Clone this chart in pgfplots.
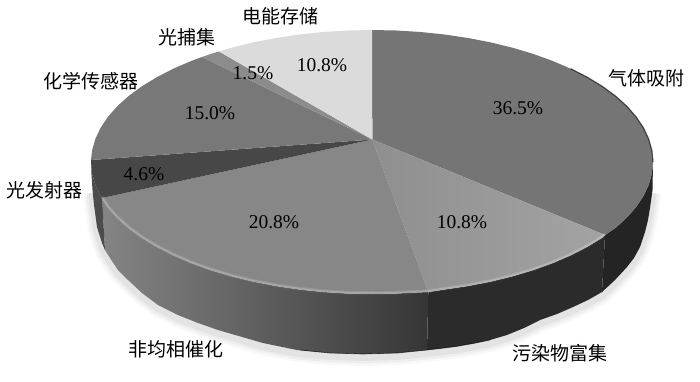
\documentclass[border=0pt]{standalone}
\usepackage{pgfplots}
\usepackage{pgfplotstable}
\usepackage{fontspec}
\pgfplotsset{compat=1.18}
\setmainfont{Liberation Serif}
\newfontfamily\cjk{Noto Sans CJK SC}
\newcommand\lab[1]{{\fontsize{19.5}{20}\selectfont #1}}
\newcommand\labc[1]{{\fontsize{19}{20}\selectfont\cjk #1}}
\pgfplotstableread{
x y
372.3 139.5
372 30
396.5 30.5
420.8 32
444.7 34.5
468.1 38
490.8 42.4
512.5 47.7
533.2 53.9
552.6 60.9
570.7 68.7
587.2 77.2
602.2 86.3
615.4 96
626.7 106.2
636.1 116.9
643.4 127.8
648.7 139.1
651.9 150.5
653 162
651.9 173.5
648.7 184.9
643.4 196.2
636.1 207.1
626.7 217.8
615.4 228
605 235
}\topgas
\pgfplotstableread{
x y
372.3 139.5
605 235
602.2 237.7
587.2 246.8
570.7 255.3
552.6 263.1
533.2 270.1
512.5 276.3
490.8 281.6
468.1 286
444.7 289.5
428.3 292
}\toppol
\pgfplotstableread{
x y
372.3 139.5
428.3 292
420.8 292.3
396.5 293.5
372 294
347.5 293.5
323.2 292
299.3 289.5
275.9 286
253.2 281.6
231.5 276.3
210.8 270.1
191.4 263.1
173.3 255.3
156.8 246.8
141.8 237.7
128.6 228
117.3 217.8
107.9 207.1
102 198
}\tophet
\pgfplotstableread{
x y
372.3 139.5
102 198
100.6 196.2
95.3 184.9
92.1 173.5
91 162
91 160
}\toplight
\pgfplotstableread{
x y
372.3 139.5
91 160
92.1 150.5
95.3 139.1
100.6 127.8
107.9 116.9
117.3 106.2
128.6 96
141.8 86.3
156.8 77.2
173.3 68.7
191.4 60.9
202 57
}\topchem
\pgfplotstableread{
x y
372.3 139.5
202 57
210.8 53.9
219 51.5
}\topcap
\pgfplotstableread{
x y
372.3 139.5
219 51.5
231.5 47.7
253.2 42.4
275.9 38
299.3 34.5
323.2 32
347.5 30.5
372 30
}\topele
\pgfplotstableread{
x y
653 162
651.9 173.5
648.7 184.9
643.4 196.2
636.1 207.1
626.7 217.8
615.4 228
605 235
602 292
615 280
627 267
634 258
640 247
645 232
648 220
650 208
652.5 190
}\sidegas
\pgfplotstableread{
x y
605 235
602.2 237.7
587.2 246.8
570.7 255.3
552.6 263.1
533.2 270.1
512.5 276.3
490.8 281.6
468.1 286
444.7 289.5
428.3 292
427 350
440 348.5
456 346.5
473 343.5
490 340
507 335
524 328
540 320
557 314
573 307
588 300
602 292
}\sidepol
\pgfplotstableread{
x y
428.3 292
420.8 292.3
396.5 293.5
372 294
347.5 293.5
323.2 292
299.3 289.5
275.9 286
253.2 281.6
231.5 276.3
210.8 270.1
191.4 263.1
173.3 255.3
156.8 246.8
141.8 237.7
128.6 228
117.3 217.8
107.9 207.1
102 198
105 250
110 258
118 270
128 280
142 293
158 305
178 315
198 323
218 330
230 333.5
263 343
297 350
330 353
363 354
397 353
427 350
}\sidehet
\pgfplotstableread{
x y
102 198
100.6 196.2
95.3 184.9
92.1 173.5
91 162
91.5 175
92.5 190
94 205
97 227
102 243
105 250
}\sidelight
\pgfplotstableread{
x y
652.5 190
650 208
648 220
645 232
640 247
634 258
627 267
615 280
602 292
588 300
573 307
557 314
540 320
524 328
507 335
490 340
473 343.5
456 346.5
440 348.5
427 350
397 353
363 354
330 353
297 350
263 343
230 333.5
218 330
198 323
178 315
158 305
142 293
128 280
118 270
110 258
105 250
102 243
97 227
94 205
92.5 190
}\outer
\pgfplotstableread{
x y
605 235
602.2 237.7
587.2 246.8
570.7 255.3
552.6 263.1
533.2 270.1
512.5 276.3
490.8 281.6
468.1 286
444.7 289.5
428.3 292
420.8 292.3
396.5 293.5
372 294
347.5 293.5
323.2 292
299.3 289.5
275.9 286
253.2 281.6
231.5 276.3
210.8 270.1
191.4 263.1
173.3 255.3
156.8 246.8
141.8 237.7
128.6 228
117.3 217.8
107.9 207.1
102 198
}\rim
\pgfplotstableread{
x y
570.7 68.7
587.2 77.2
602.2 86.3
615.4 96
626.7 106.2
636.1 116.9
643.4 127.8
648.7 139.1
651.9 150.5
653 162
}\darkrim
\pgfplotstableread{
x y
300 350
330 353
363 354
397 353
427 350
440 348.5
456 346.5
473 343.5
490 340
}\outerline
\definecolor{cgas}{gray}{0.46}
\definecolor{cpol}{gray}{0.60}
\definecolor{chet}{gray}{0.53}
\definecolor{clight}{gray}{0.28}
\definecolor{cchem}{gray}{0.47}
\definecolor{ccap}{gray}{0.55}
\definecolor{cele}{gray}{0.86}
\definecolor{shl}{gray}{0.52}
\definecolor{shr}{gray}{0.21}
\definecolor{polL}{gray}{0.56}
\definecolor{polR}{gray}{0.64}
\begin{document}
\begin{tikzpicture}
\begin{axis}[
  at={(0,0)}, anchor=south west,
  width=700pt, height=381pt, scale only axis,
  xmin=0, xmax=700, ymin=0, ymax=381, y dir=reverse,
  hide axis, clip=false,
  every node/.style={text=black, inner sep=0pt},
]
\addplot[draw=none, forget plot] coordinates {(0,0) (700,381)};
\addplot[gray, opacity=0.06, line width=18pt, yshift=-3pt] table {\outer};
\addplot[gray, opacity=0.08, line width=13pt, yshift=-3pt] table {\outer};
\addplot[gray, opacity=0.10, line width=8pt, yshift=-3pt] table {\outer};
\addplot[draw=none, fill=black!86] table {\sidegas};
\addplot[draw=none, fill=black!83] table {\sidepol};
\addplot[draw=none, shade, left color=shl, right color=shr] table {\sidehet};
\addplot[draw=none, fill=black!70] table {\sidelight};
\addplot[black, opacity=0.6, line width=0.7pt] table {\outerline};
\addplot[draw=none, fill=cgas] table {\topgas};
\addplot[draw=none, shade, left color=polL, right color=polR] table {\toppol};
\addplot[draw=none, fill=chet] table {\tophet};
\addplot[draw=none, fill=clight] table {\toplight};
\addplot[draw=none, fill=cchem] table {\topchem};
\addplot[draw=none, fill=ccap] table {\topcap};
\addplot[draw=none, fill=cele] table {\topele};
\addplot[white, opacity=0.10, line width=3.5pt, yshift=1pt] table {\rim};
\addplot[white, opacity=0.18, line width=1.5pt, yshift=1pt] table {\rim};
\addplot[black, opacity=0.6, line width=1.2pt] table {\darkrim};
\node at (axis cs:280,16.5) {\labc{电能存储}};
\node at (axis cs:187,37) {\labc{光捕集}};
\node at (axis cs:91,81) {\labc{化学传感器}};
\node at (axis cs:44,190) {\labc{光发射器}};
\node at (axis cs:646,78) {\labc{气体吸附}};
\node at (axis cs:176,349) {\labc{非均相催化}};
\node at (axis cs:560,353) {\labc{污染物富集}};
\node at (axis cs:144,174) {\lab{4.6\%}};
\node at (axis cs:210,113) {\lab{15.0\%}};
\node at (axis cs:253,73) {\lab{1.5\%}};
\node at (axis cs:322,65) {\lab{10.8\%}};
\node at (axis cs:518,108) {\lab{36.5\%}};
\node at (axis cs:274,222) {\lab{20.8\%}};
\node at (axis cs:462,222) {\lab{10.8\%}};
\end{axis}
\end{tikzpicture}
\end{document}
